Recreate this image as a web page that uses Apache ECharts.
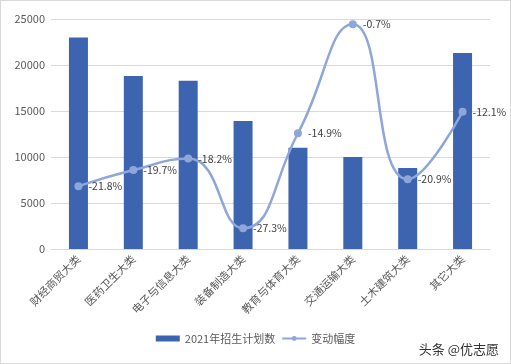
<!DOCTYPE html>
<html><head><meta charset="utf-8">
<script src="https://cdn.jsdelivr.net/npm/echarts@6/dist/echarts.min.js"></script>
<style>
html,body{margin:0;padding:0;background:#fff;}
#c{position:absolute;left:0;top:0;width:509px;height:362px;border:1px solid #d9d9d9;}
#wm{position:absolute;right:12px;bottom:6px;font:13px "Noto Sans CJK SC",sans-serif;color:#333;}
</style></head>
<body>
<div id="c"></div>
<div id="wm">头条 @优志愿</div>
<script>
const categories = ['财经商贸大类','医药卫生大类','电子与信息大类','装备制造大类','教育与体育大类','交通运输大类','土木建筑大类','其它大类'];
const plan2021 = [23000, 18800, 18300, 13900, 11000, 10000, 8800, 21300];
const change = [-21.8, -19.7, -18.2, -27.3, -14.9, -0.7, -20.9, -12.1];
const yTicks = [0, 5000, 10000, 15000, 20000, 25000];

const chart = echarts.init(document.getElementById('c'));
chart.setOption({
  animation: false,
  textStyle: {fontFamily: '"Noto Sans CJK SC", sans-serif'},
  grid: {left: 50, right: 20, top: 18, bottom: 114, containLabel: false},
  legend: {
    bottom: 14, left: 'center', itemGap: 6, itemWidth: 24, itemHeight: 6,
    textStyle: {color: '#595959', fontSize: 11},
    data: [
      {name: '2021年招生计划数', icon: 'rect'},
      {name: '变动幅度'}
    ]
  },
  xAxis: {
    type: 'category', data: categories,
    axisLine: {lineStyle: {color: '#d9d9d9'}},
    axisTick: {show: false},
    axisLabel: {rotate: 45, color: '#595959', fontSize: 11, margin: 8, interval: 0}
  },
  yAxis: [
    {type: 'value', min: yTicks[0], max: yTicks[yTicks.length-1], interval: 5000,
     axisLine: {show: false}, axisTick: {show: false},
     axisLabel: {color: '#595959', fontSize: 11, margin: 6, formatter: v => String(v)},
     splitLine: {lineStyle: {color: '#d9d9d9'}}},
    {type: 'value', min: -30, max: 0, show: false, splitLine: {show: false}}
  ],
  series: [
    {name: '2021年招生计划数', type: 'bar', data: plan2021, barWidth: 19,
     itemStyle: {color: '#3C64AF'}},
    {name: '变动幅度', type: 'line', yAxisIndex: 1, data: change, smooth: 0.5,
     symbol: 'circle', symbolSize: 8,
     lineStyle: {color: '#8FA6DA', width: 2.5},
     itemStyle: {color: '#8FA6DA'},
     label: {show: true, position: 'right', distance: 6, color: '#404040', fontSize: 10.5,
       formatter: p => p.value + '%'}}
  ]
});
</script>
</body></html>
